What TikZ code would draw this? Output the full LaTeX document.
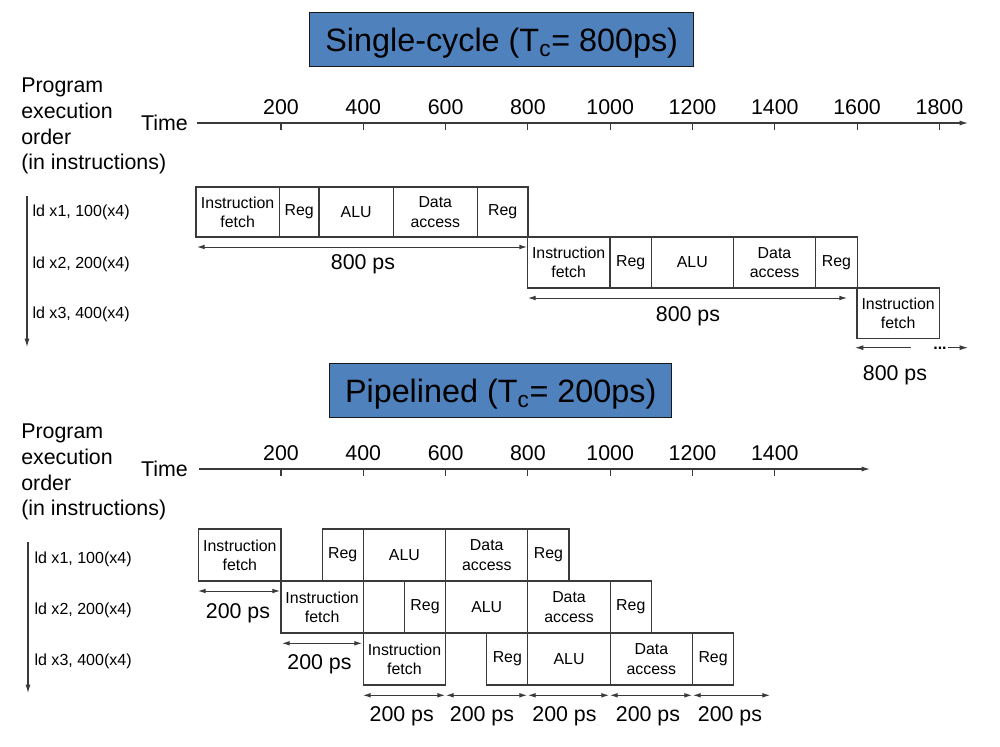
\documentclass[tikz,border=0pt]{standalone}
\usepackage{fontspec}
\setmainfont{Liberation Sans}
\usetikzlibrary{arrows.meta,positioning}
\newdimen\px \px=0.025cm
\definecolor{titleblue}{HTML}{4F81BD}
\definecolor{linegray}{HTML}{3A3A3A}

\begin{document}
\begin{tikzpicture}[x=0.025cm, y=-0.025cm,
		every node/.style={inner sep=0pt},
		title/.style={draw=black!90, fill=titleblue, line width=1pt, anchor=north west, text depth=0pt, font=\fontsize{23}{27}\selectfont},
		label/.style={font=\fontsize{15.2}{18.2}\selectfont},
		instr/.style={anchor=base west, font=\fontsize{11.4}{13.7}\selectfont},
		stage/.style={draw=linegray, line width=0.8pt, outer sep=0pt, anchor=north west, align=center, font=\fontsize{11.3}{13.7}\selectfont},
		axis/.style={draw=linegray, line width=0.8pt, -{Latex[length=6pt,width=3.6pt]}},
		span/.style={draw=linegray, line width=0.7pt, {Latex[length=5.5pt,width=3.4pt]}-{Latex[length=5.5pt,width=3.4pt]}},
		tick/.style={draw=linegray, line width=0.8pt}]
		\useasboundingbox (0,0) rectangle (1000,747);

		% single-cycle
		\node[title, minimum width=384\px, minimum height=54\px] (sctitle) at (309,12) {Single-cycle (T\textsubscript{c}= 800ps)};
		\node[label, anchor=north west, align=left] (scorder) at (21,78) {Program\\execution\\order\\(in instructions)};
		\node[label, anchor=east] (sctime) at (188,122.5) {Time};
		\coordinate (sct0) at (197,123);
		\coordinate (sctend) at (968,123);
		\draw[axis] (sct0) -- (sctend);
		\foreach \v [count=\i] in {200,400,...,1800} {
			\coordinate (sck\i) at ({198.7+\i*82.3},123);
			\draw[tick] (sck\i) -- ++(0,7.5);
			\node[label] (scl\i) at ({198.7+\i*82.3},107.5) {\v};
		}
		\coordinate (scv0) at (27,196);
		\coordinate (scv1) at (27,347);
		\draw[axis] (scv0) -- (scv1);
		\node[instr] (sci1) at (32.3,216.7) {ld x1, 100(x4)};
		\node[instr] (sci2) at (32.3,268.3) {ld x2, 200(x4)};
		\node[instr] (sci3) at (32.3,319) {ld x3, 400(x4)};

		\node[stage, minimum width=83.3\px, minimum height=50\px] (sa1) at (196,187) {Instruction\\fetch};
		\node[stage, minimum width=39.7\px, minimum height=50\px] (sa2) at (sa1.north east) {Reg};
		\node[stage, minimum width=74.3\px, minimum height=50\px] (sa3) at (sa2.north east) {ALU};
		\node[stage, minimum width=84\px, minimum height=50\px] (sa4) at (sa3.north east) {Data\\access};
		\node[stage, minimum width=50.7\px, minimum height=50\px] (sa5) at (sa4.north east) {Reg};

		\node[stage, minimum width=82.7\px, minimum height=51\px] (sb1) at (527.3,237) {Instruction\\fetch};
		\node[stage, minimum width=41.3\px, minimum height=51\px] (sb2) at (sb1.north east) {Reg};
		\node[stage, minimum width=82\px, minimum height=51\px] (sb3) at (sb2.north east) {ALU};
		\node[stage, minimum width=82.4\px, minimum height=51\px] (sb4) at (sb3.north east) {Data\\access};
		\node[stage, minimum width=41.6\px, minimum height=51\px] (sb5) at (sb4.north east) {Reg};

		\node[stage, minimum width=82.3\px, minimum height=50.7\px] (sc1) at (857,288) {Instruction\\fetch};

		\coordinate (sp1a) at (197,247);
		\coordinate (sp1b) at (527,247);
		\draw[span] (sp1a) -- (sp1b);
		\node[label, anchor=base] (spl1) at (363,270) {800 ps};
		\coordinate (sp2a) at (528,298);
		\coordinate (sp2b) at (847,298);
		\draw[span] (sp2a) -- (sp2b);
		\node[label, anchor=base] (spl2) at (688,321.7) {800 ps};
		\coordinate (sp3a) at (910.7,347.7);
		\coordinate (sp3b) at (855,347.7);
		\draw[axis, line width=0.7pt] (sp3a) -- (sp3b);
		\node[instr, anchor=base] (spdots) at (940,349.5) {\textbf{...}};
		\coordinate (sp3c) at (948,347.7);
		\coordinate (sp3d) at (968,347.7);
		\draw[axis, line width=0.7pt] (sp3c) -- (sp3d);
		\node[label, anchor=base] (spl3) at (895,381) {800 ps};

		% pipelined
		\node[title, minimum width=342\px, minimum height=54\px] (pptitle) at (329,363) {Pipelined (T\textsubscript{c}= 200ps)};
		\node[label, anchor=north west, align=left] (pporder) at (21,424) {Program\\execution\\order\\(in instructions)};
		\node[label, anchor=east] (pptime) at (188,469) {Time};
		\coordinate (ppt0) at (199.3,469);
		\coordinate (pptend) at (870,469);
		\draw[axis] (ppt0) -- (pptend);
		\foreach \v [count=\i] in {200,400,...,1400} {
			\coordinate (ppk\i) at ({198.7+\i*82.3},469);
			\draw[tick] (ppk\i) -- ++(0,7.5);
			\node[label] (ppl\i) at ({198.7+\i*82.3},453.3) {\v};
		}
		\coordinate (ppv0) at (28,542);
		\coordinate (ppv1) at (28,693);
		\draw[axis] (ppv0) -- (ppv1);
		\node[instr] (ppi1) at (34.3,563.3) {ld x1, 100(x4)};
		\node[instr] (ppi2) at (34.3,614.3) {ld x2, 200(x4)};
		\node[instr] (ppi3) at (34.3,665.7) {ld x3, 400(x4)};

		\foreach \r/\y in {1/529,2/581,3/633} {
			\node[stage, minimum width=82.3\px, minimum height=52\px] (pif\r) at ({198.7+(\r-1)*82.3},\y) {Instruction\\fetch};
			\node[stage, minimum width=41.15\px, minimum height=52\px] (prd\r) at ({198.7+(\r-1)*82.3+123.45},\y) {Reg};
			\node[stage, minimum width=82.3\px, minimum height=52\px] (palu\r) at (prd\r.north east) {ALU};
			\node[stage, minimum width=82.3\px, minimum height=52\px] (pmem\r) at (palu\r.north east) {Data\\access};
			\node[stage, minimum width=41.15\px, minimum height=52\px] (pwb\r) at (pmem\r.north east) {Reg};
		}

		\coordinate (pp1a) at (198,591);
		\coordinate (pp1b) at (280,591);
		\draw[span] (pp1a) -- (pp1b);
		\node[label, anchor=base] (ppd1) at (238,618.3) {200 ps};
		\coordinate (pp2a) at (282,643.3);
		\coordinate (pp2b) at (362,643.3);
		\draw[span] (pp2a) -- (pp2b);
		\node[label, anchor=base] (ppd2) at (319.5,669.3) {200 ps};
		\foreach \a/\b/\m [count=\i] in {363/445/401.7, 446/527/482, 528/609/564.5, 610/692/648, 693/770/730} {
			\coordinate (pq\i a) at (\a,695.3);
			\coordinate (pq\i b) at (\b,695.3);
			\draw[span] (pq\i a) -- (pq\i b);
			\node[label, anchor=base] (pqd\i) at (\m,721.7) {200 ps};
		}
	\end{tikzpicture}
\end{document}
